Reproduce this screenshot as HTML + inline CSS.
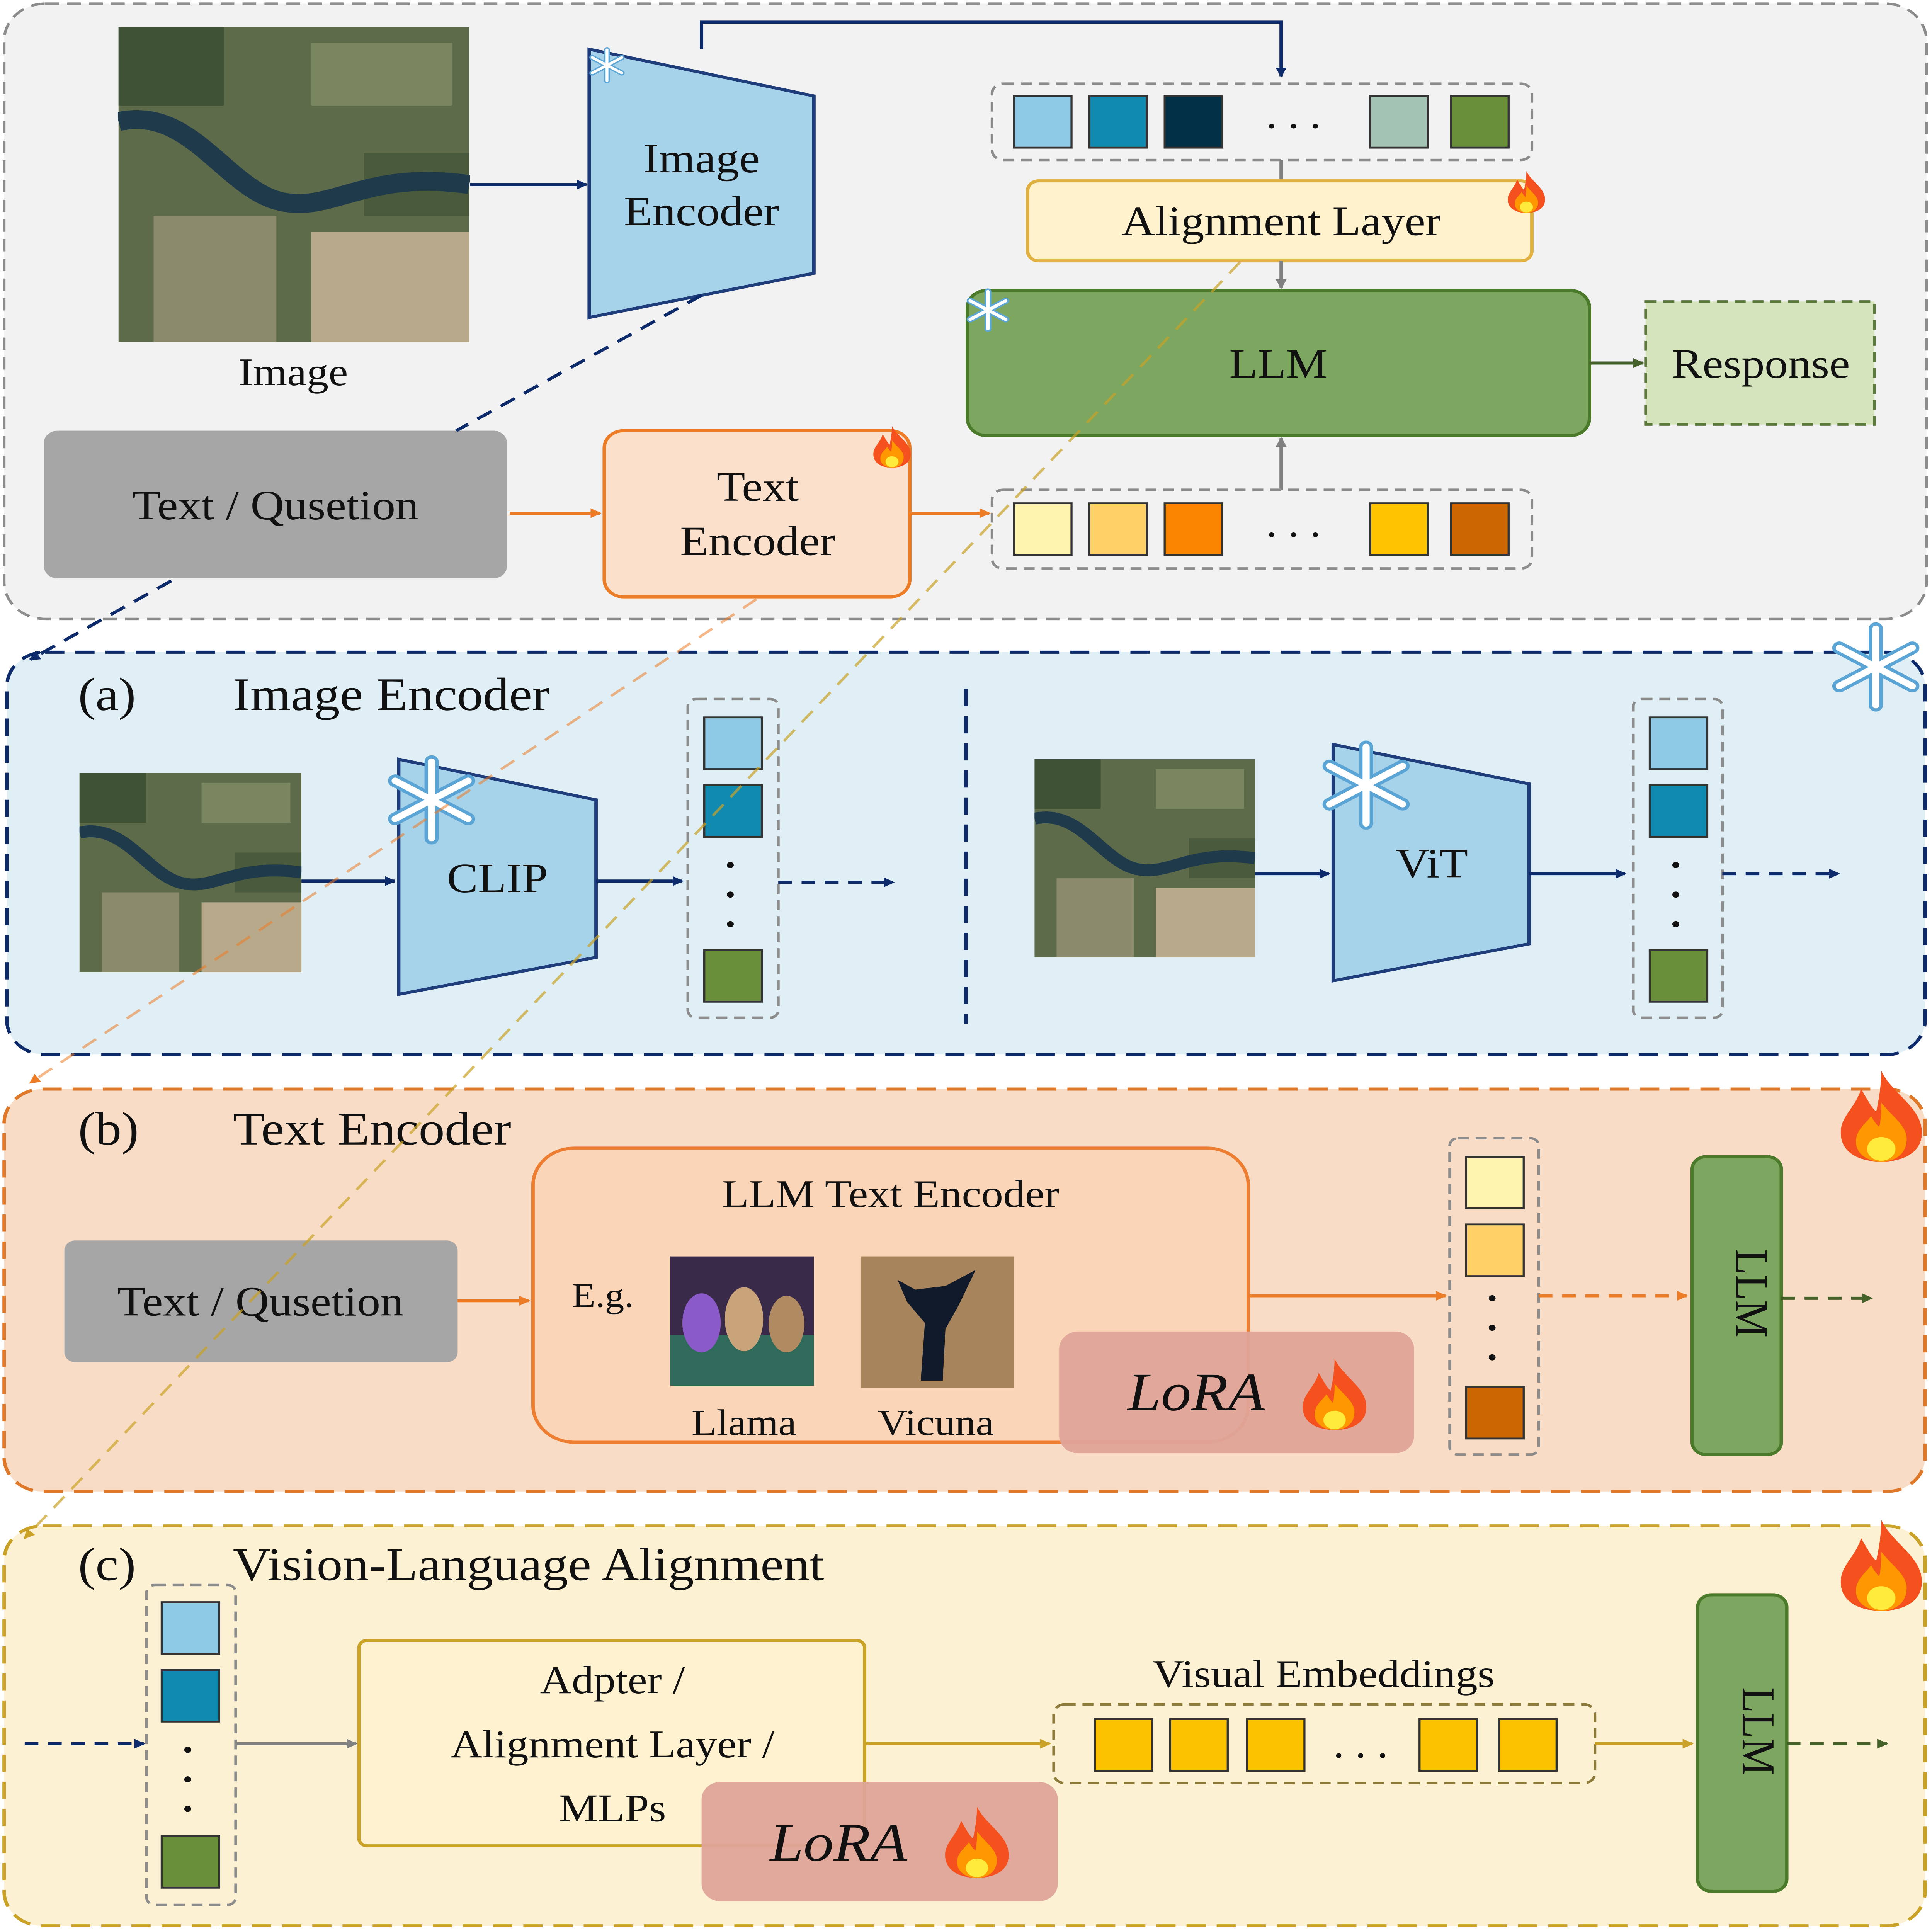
<!DOCTYPE html>
<html><head><meta charset="utf-8"><style>
html,body{margin:0;padding:0;background:#fff;overflow:hidden;width:100%;height:100%}
svg{display:block;width:100vw;height:100vh}
text{font-family:"Liberation Serif",serif;fill:#111}
</style></head><body>
<svg viewBox="0 0 1410 1570" preserveAspectRatio="none" xmlns="http://www.w3.org/2000/svg">
<defs>
<marker id="an" markerWidth="8" markerHeight="8" refX="7" refY="4" orient="auto" markerUnits="userSpaceOnUse" viewBox="0 0 8 8"><path d="M0,0 L8,4 L0,8z" fill="#0d2a6b"/></marker>
<marker id="ao" markerWidth="8" markerHeight="8" refX="7" refY="4" orient="auto" markerUnits="userSpaceOnUse" viewBox="0 0 8 8"><path d="M0,0 L8,4 L0,8z" fill="#ec7c26"/></marker>
<marker id="ag" markerWidth="8" markerHeight="8" refX="7" refY="4" orient="auto" markerUnits="userSpaceOnUse" viewBox="0 0 8 8"><path d="M0,0 L8,4 L0,8z" fill="#808080"/></marker>
<marker id="agr" markerWidth="8" markerHeight="8" refX="7" refY="4" orient="auto" markerUnits="userSpaceOnUse" viewBox="0 0 8 8"><path d="M0,0 L8,4 L0,8z" fill="#44622a"/></marker>
<marker id="ay" markerWidth="8" markerHeight="8" refX="7" refY="4" orient="auto" markerUnits="userSpaceOnUse" viewBox="0 0 8 8"><path d="M0,0 L8,4 L0,8z" fill="#c9a227"/></marker>
<symbol id="fire" viewBox="0 0 100 100">
<path d="M50,0 C60,25 90,40 90,68 C90,90 72,100 50,100 C28,100 10,90 10,68 C10,50 25,40 30,20 C38,35 40,40 45,45 C48,30 50,15 50,0Z" fill="#f4511e"/>
<path d="M50,35 C60,50 75,60 75,75 C75,92 63,100 50,100 C37,100 25,92 25,78 C25,65 35,58 40,50 C44,58 46,60 48,62 C50,52 50,44 50,35Z" fill="#ff9800"/>
<ellipse cx="50" cy="86" rx="14" ry="13" fill="#ffeb3b"/>
</symbol>
<symbol id="sat" viewBox="0 0 100 100">
<rect width="100" height="100" fill="#5d6b4a"/>
<rect x="0" y="0" width="30" height="25" fill="#3f5236"/>
<rect x="55" y="5" width="40" height="20" fill="#7a8660"/>
<rect x="10" y="60" width="35" height="40" fill="#8c8a6c"/>
<rect x="55" y="65" width="45" height="35" fill="#b8a98a"/>
<rect x="70" y="40" width="30" height="20" fill="#4a5a3c"/>
<path d="M0,30 C20,25 30,50 45,55 C60,60 70,45 100,50" stroke="#1f3a4a" stroke-width="6" fill="none"/>
</symbol>
<symbol id="snow" viewBox="0 0 100 100">
<g stroke="#5aa5d6" stroke-width="14" stroke-linecap="round"><line x1="50" y1="8" x2="50" y2="92"/><line x1="14" y1="29" x2="86" y2="71"/><line x1="14" y1="71" x2="86" y2="29"/></g>
<g stroke="#fff" stroke-width="7" stroke-linecap="round"><line x1="50" y1="8" x2="50" y2="92"/><line x1="14" y1="29" x2="86" y2="71"/><line x1="14" y1="71" x2="86" y2="29"/></g>
</symbol>
</defs>

<!-- TOP PANEL -->
<rect x="3" y="3" width="1403" height="500" rx="30" fill="#f2f2f2" stroke="#8c8c8c" stroke-width="2" stroke-dasharray="10,6"/>
<use href="#sat" x="86" y="22" width="257" height="256"/>
<text x="214" y="313" font-size="32" text-anchor="middle">Image</text>
<line x1="343" y1="150" x2="428" y2="150" stroke="#0d2a6b" stroke-width="2.5" marker-end="url(#an)"/>
<polygon points="430,40 594,78 594,222 430,258" fill="#a6d3ea" stroke="#1f3d7a" stroke-width="2.5"/>
<text x="512" y="140" font-size="34" text-anchor="middle">Image</text>
<text x="512" y="183" font-size="34" text-anchor="middle">Encoder</text>
<use href="#snow" x="428" y="38" width="30" height="30"/>
<polyline points="512,40 512,18 935,18 935,62" fill="none" stroke="#0d2a6b" stroke-width="2.5" marker-end="url(#an)"/>
<rect x="724" y="68" width="394" height="62" rx="8" fill="none" stroke="#8c8c8c" stroke-width="2" stroke-dasharray="8,5"/>
<rect x="740" y="78" width="42" height="42" fill="#8ecae6" stroke="#333" stroke-width="1.5"/>
<rect x="795" y="78" width="42" height="42" fill="#118ab2" stroke="#333" stroke-width="1.5"/>
<rect x="850" y="78" width="42" height="42" fill="#023047" stroke="#333" stroke-width="1.5"/>
<text x="944" y="104" font-size="32" text-anchor="middle">. . .</text>
<rect x="1000" y="78" width="42" height="42" fill="#a3c4b5" stroke="#333" stroke-width="1.5"/>
<rect x="1059" y="78" width="42" height="42" fill="#6a8f3a" stroke="#333" stroke-width="1.5"/>
<line x1="935" y1="130" x2="935" y2="147" stroke="#808080" stroke-width="2.5"/>
<rect x="750" y="147" width="368" height="65" rx="8" fill="#fff2cc" stroke="#e0b040" stroke-width="2.5"/>
<text x="935" y="191" font-size="34" text-anchor="middle">Alignment Layer</text>
<use href="#fire" x="1097" y="136" width="34" height="40"/>
<line x1="935" y1="212" x2="935" y2="234" stroke="#808080" stroke-width="2.5" marker-end="url(#ag)"/>
<rect x="706" y="236" width="454" height="118" rx="14" fill="#7da661" stroke="#4a7a2a" stroke-width="2.5"/>
<text x="933" y="307" font-size="34" text-anchor="middle">LLM</text>
<use href="#snow" x="703" y="234" width="36" height="36"/>
<line x1="1160" y1="295" x2="1199" y2="295" stroke="#44622a" stroke-width="2.5" marker-end="url(#agr)"/>
<rect x="1201" y="245" width="167" height="100" fill="#d5e4bc" stroke="#5a7a3a" stroke-width="2" stroke-dasharray="8,5"/>
<text x="1285" y="307" font-size="34" text-anchor="middle">Response</text>
<line x1="935" y1="398" x2="935" y2="356" stroke="#808080" stroke-width="2.5" marker-end="url(#ag)"/>
<rect x="32" y="350" width="338" height="120" rx="10" fill="#a6a6a6"/>
<text x="201" y="422" font-size="34" text-anchor="middle">Text / Qusetion</text>
<line x1="372" y1="417" x2="438" y2="417" stroke="#ec7c26" stroke-width="2.5" marker-end="url(#ao)"/>
<rect x="441" y="350" width="223" height="135" rx="14" fill="#fbe0cc" stroke="#ec7c26" stroke-width="2.5"/>
<text x="553" y="407" font-size="34" text-anchor="middle">Text</text>
<text x="553" y="451" font-size="34" text-anchor="middle">Encoder</text>
<use href="#fire" x="634" y="342" width="34" height="42"/>
<line x1="664" y1="417" x2="722" y2="417" stroke="#ec7c26" stroke-width="2.5" marker-end="url(#ao)"/>
<rect x="724" y="398" width="394" height="64" rx="8" fill="none" stroke="#8c8c8c" stroke-width="2" stroke-dasharray="8,5"/>
<rect x="740" y="409" width="42" height="42" fill="#fff3b0" stroke="#333" stroke-width="1.5"/>
<rect x="795" y="409" width="42" height="42" fill="#ffd166" stroke="#333" stroke-width="1.5"/>
<rect x="850" y="409" width="42" height="42" fill="#fb8500" stroke="#333" stroke-width="1.5"/>
<text x="944" y="436" font-size="32" text-anchor="middle">. . .</text>
<rect x="1000" y="409" width="42" height="42" fill="#ffc300" stroke="#333" stroke-width="1.5"/>
<rect x="1059" y="409" width="42" height="42" fill="#cc6600" stroke="#333" stroke-width="1.5"/>

<!-- PANEL A -->
<rect x="5" y="530" width="1400" height="327" rx="28" fill="#dfeff5" stroke="#0d2a6b" stroke-width="2.5" stroke-dasharray="14,8"/>
<text x="57" y="577" font-size="38">(a)</text>
<text x="170" y="577" font-size="38">Image Encoder</text>
<use href="#snow" x="1332" y="505" width="74" height="74"/>
<use href="#sat" x="58" y="628" width="162" height="162"/>
<line x1="220" y1="716" x2="288" y2="716" stroke="#0d2a6b" stroke-width="2.5" marker-end="url(#an)"/>
<polygon points="291,617 435,650 435,778 291,808" fill="#a6d3ea" stroke="#1f3d7a" stroke-width="2.5"/>
<text x="363" y="725" font-size="34" text-anchor="middle">CLIP</text>
<use href="#snow" x="278" y="613" width="74" height="74"/>
<line x1="435" y1="716" x2="498" y2="716" stroke="#0d2a6b" stroke-width="2.5" marker-end="url(#an)"/>
<rect x="502" y="568" width="66" height="259" rx="6" fill="none" stroke="#8c8c8c" stroke-width="2" stroke-dasharray="8,5"/>
<rect x="514" y="583" width="42" height="42" fill="#8ecae6" stroke="#333" stroke-width="1.5"/>
<rect x="514" y="638" width="42" height="42" fill="#118ab2" stroke="#333" stroke-width="1.5"/>
<circle cx="533" cy="703" r="2.5" fill="#111"/><circle cx="533" cy="727" r="2.5" fill="#111"/><circle cx="533" cy="751" r="2.5" fill="#111"/>
<rect x="514" y="772" width="42" height="42" fill="#6a8f3a" stroke="#333" stroke-width="1.5"/>
<line x1="568" y1="717" x2="652" y2="717" stroke="#0d2a6b" stroke-width="2.5" stroke-dasharray="10,7" marker-end="url(#an)"/>
<line x1="705" y1="560" x2="705" y2="832" stroke="#0d2a6b" stroke-width="2.5" stroke-dasharray="14,8"/>
<use href="#sat" x="755" y="617" width="161" height="161"/>
<line x1="916" y1="710" x2="970" y2="710" stroke="#0d2a6b" stroke-width="2.5" marker-end="url(#an)"/>
<polygon points="973,605 1116,637 1116,767 973,797" fill="#a6d3ea" stroke="#1f3d7a" stroke-width="2.5"/>
<text x="1045" y="713" font-size="34" text-anchor="middle">ViT</text>
<use href="#snow" x="960" y="601" width="74" height="74"/>
<line x1="1116" y1="710" x2="1186" y2="710" stroke="#0d2a6b" stroke-width="2.5" marker-end="url(#an)"/>
<rect x="1192" y="568" width="65" height="259" rx="6" fill="none" stroke="#8c8c8c" stroke-width="2" stroke-dasharray="8,5"/>
<rect x="1204" y="583" width="42" height="42" fill="#8ecae6" stroke="#333" stroke-width="1.5"/>
<rect x="1204" y="638" width="42" height="42" fill="#118ab2" stroke="#333" stroke-width="1.5"/>
<circle cx="1223" cy="703" r="2.5" fill="#111"/><circle cx="1223" cy="727" r="2.5" fill="#111"/><circle cx="1223" cy="751" r="2.5" fill="#111"/>
<rect x="1204" y="772" width="42" height="42" fill="#6a8f3a" stroke="#333" stroke-width="1.5"/>
<line x1="1257" y1="710" x2="1342" y2="710" stroke="#0d2a6b" stroke-width="2.5" stroke-dasharray="10,7" marker-end="url(#an)"/>

<!-- PANEL B -->
<rect x="3" y="885" width="1402" height="327" rx="28" fill="#f9dcc6" stroke="#e0782a" stroke-width="2.5" stroke-dasharray="14,8"/>
<text x="57" y="930" font-size="38">(b)</text>
<text x="170" y="930" font-size="38">Text Encoder</text>
<use href="#fire" x="1336" y="862" width="74" height="90"/>
<rect x="47" y="1008" width="287" height="99" rx="8" fill="#a6a6a6"/>
<text x="190" y="1069" font-size="34" text-anchor="middle">Text / Qusetion</text>
<line x1="334" y1="1057" x2="386" y2="1057" stroke="#ec7c26" stroke-width="2.5" marker-end="url(#ao)"/>
<rect x="389" y="933" width="522" height="239" rx="30" fill="#fad5b8" stroke="#ed7d31" stroke-width="2.5"/>
<text x="650" y="981" font-size="32" text-anchor="middle">LLM Text Encoder</text>
<text x="440" y="1062" font-size="28" text-anchor="middle">E.g.</text>
<rect x="489" y="1021" width="105" height="105" fill="#3a2a4a"/>
<rect x="489" y="1085" width="105" height="41" fill="#2f6a5a"/>
<ellipse cx="512" cy="1075" rx="14" ry="24" fill="#8a5ac8"/>
<ellipse cx="543" cy="1072" rx="14" ry="26" fill="#c9a47a"/>
<ellipse cx="574" cy="1076" rx="13" ry="23" fill="#b08a60"/>
<text x="543" y="1166" font-size="30" text-anchor="middle">Llama</text>
<rect x="628" y="1021" width="112" height="107" fill="#a8845c"/>
<path d="M655,1040 L668,1048 L690,1045 L712,1032 L700,1060 L690,1080 L688,1122 L672,1122 L675,1075 L662,1058Z" fill="#101a2a"/>
<text x="683" y="1166" font-size="30" text-anchor="middle">Vicuna</text>
<rect x="773" y="1082" width="259" height="99" rx="14" fill="#dfa498" fill-opacity="0.95"/>
<text x="873" y="1146" font-size="44" font-style="italic" text-anchor="middle">LoRA</text>
<use href="#fire" x="945" y="1098" width="58" height="70"/>
<line x1="911" y1="1053" x2="1055" y2="1053" stroke="#ec7c26" stroke-width="2.5" marker-end="url(#ao)"/>
<rect x="1058" y="925" width="65" height="257" rx="6" fill="none" stroke="#8c8c8c" stroke-width="2" stroke-dasharray="8,5"/>
<rect x="1070" y="940" width="42" height="42" fill="#fff3b0" stroke="#333" stroke-width="1.5"/>
<rect x="1070" y="995" width="42" height="42" fill="#ffd166" stroke="#333" stroke-width="1.5"/>
<circle cx="1089" cy="1055" r="2.5" fill="#111"/><circle cx="1089" cy="1079" r="2.5" fill="#111"/><circle cx="1089" cy="1103" r="2.5" fill="#111"/>
<rect x="1070" y="1127" width="42" height="42" fill="#cc6600" stroke="#333" stroke-width="1.5"/>
<line x1="1123" y1="1053" x2="1231" y2="1053" stroke="#ec7c26" stroke-width="2.5" stroke-dasharray="10,7" marker-end="url(#ao)"/>
<rect x="1235" y="940" width="65" height="242" rx="10" fill="#7da661" stroke="#4a7a2a" stroke-width="2.5"/>
<text x="1257" y="1061" font-size="34" text-anchor="middle" transform="rotate(90 1267 1061)">LLM</text>
<line x1="1300" y1="1055" x2="1366" y2="1055" stroke="#44622a" stroke-width="2.5" stroke-dasharray="10,7" marker-end="url(#agr)"/>

<!-- PANEL C -->
<rect x="3" y="1240" width="1402" height="325" rx="28" fill="#fdf1d3" stroke="#c9a227" stroke-width="2.5" stroke-dasharray="14,8"/>
<text x="57" y="1284" font-size="38">(c)</text>
<text x="170" y="1284" font-size="38">Vision-Language Alignment</text>
<use href="#fire" x="1336" y="1227" width="74" height="90"/>
<line x1="18" y1="1417" x2="105" y2="1417" stroke="#0d2a6b" stroke-width="2.5" stroke-dasharray="10,7" marker-end="url(#an)"/>
<rect x="107" y="1288" width="65" height="260" rx="6" fill="none" stroke="#8c8c8c" stroke-width="2" stroke-dasharray="8,5"/>
<rect x="118" y="1302" width="42" height="42" fill="#8ecae6" stroke="#333" stroke-width="1.5"/>
<rect x="118" y="1357" width="42" height="42" fill="#118ab2" stroke="#333" stroke-width="1.5"/>
<circle cx="137" cy="1422" r="2.5" fill="#111"/><circle cx="137" cy="1446" r="2.5" fill="#111"/><circle cx="137" cy="1470" r="2.5" fill="#111"/>
<rect x="118" y="1492" width="42" height="42" fill="#6a8f3a" stroke="#333" stroke-width="1.5"/>
<line x1="172" y1="1417" x2="260" y2="1417" stroke="#808080" stroke-width="2.5" marker-end="url(#ag)"/>
<rect x="262" y="1333" width="369" height="167" rx="6" fill="#fef2d0" stroke="#c9a227" stroke-width="2.5"/>
<text x="447" y="1376" font-size="32" text-anchor="middle">Adpter /</text>
<text x="447" y="1428" font-size="32" text-anchor="middle">Alignment Layer /</text>
<text x="447" y="1480" font-size="32" text-anchor="middle">MLPs</text>
<rect x="512" y="1448" width="260" height="97" rx="14" fill="#dfa498" fill-opacity="0.95"/>
<text x="612" y="1512" font-size="44" font-style="italic" text-anchor="middle">LoRA</text>
<use href="#fire" x="684" y="1462" width="58" height="70"/>
<line x1="631" y1="1417" x2="766" y2="1417" stroke="#c9a227" stroke-width="2.5" marker-end="url(#ay)"/>
<text x="966" y="1371" font-size="32" text-anchor="middle">Visual Embeddings</text>
<rect x="769" y="1385" width="395" height="64" rx="8" fill="none" stroke="#8c7a3a" stroke-width="2" stroke-dasharray="8,5"/>
<rect x="799" y="1397" width="42" height="42" fill="#fcc200" stroke="#333" stroke-width="1.5"/>
<rect x="854" y="1397" width="42" height="42" fill="#fcc200" stroke="#333" stroke-width="1.5"/>
<rect x="910" y="1397" width="42" height="42" fill="#fcc200" stroke="#333" stroke-width="1.5"/>
<text x="993" y="1428" font-size="32" text-anchor="middle">. . .</text>
<rect x="1036" y="1397" width="42" height="42" fill="#fcc200" stroke="#333" stroke-width="1.5"/>
<rect x="1094" y="1397" width="42" height="42" fill="#fcc200" stroke="#333" stroke-width="1.5"/>
<line x1="1164" y1="1417" x2="1235" y2="1417" stroke="#c9a227" stroke-width="2.5" marker-end="url(#ay)"/>
<rect x="1239" y="1296" width="65" height="241" rx="10" fill="#7da661" stroke="#4a7a2a" stroke-width="2.5"/>
<text x="1262" y="1417" font-size="34" text-anchor="middle" transform="rotate(90 1272 1417)">LLM</text>
<line x1="1304" y1="1417" x2="1377" y2="1417" stroke="#44622a" stroke-width="2.5" stroke-dasharray="10,7" marker-end="url(#agr)"/>

<!-- cross-panel dashed connectors -->
<line x1="512" y1="240" x2="333" y2="350" stroke="#0d2a6b" stroke-width="2.5" stroke-dasharray="12,8"/>
<line x1="125" y1="472" x2="22" y2="536" stroke="#0d2a6b" stroke-width="2.5" stroke-dasharray="12,8" marker-end="url(#an)"/>
<line x1="552" y1="487" x2="22" y2="880" stroke="#ec7c26" stroke-width="2" stroke-dasharray="12,8" stroke-opacity="0.55" marker-end="url(#ao)"/>
<line x1="905" y1="213" x2="18" y2="1250" stroke="#c9a227" stroke-width="2" stroke-dasharray="12,8" stroke-opacity="0.7" marker-end="url(#ay)"/>
</svg>
</body></html>
